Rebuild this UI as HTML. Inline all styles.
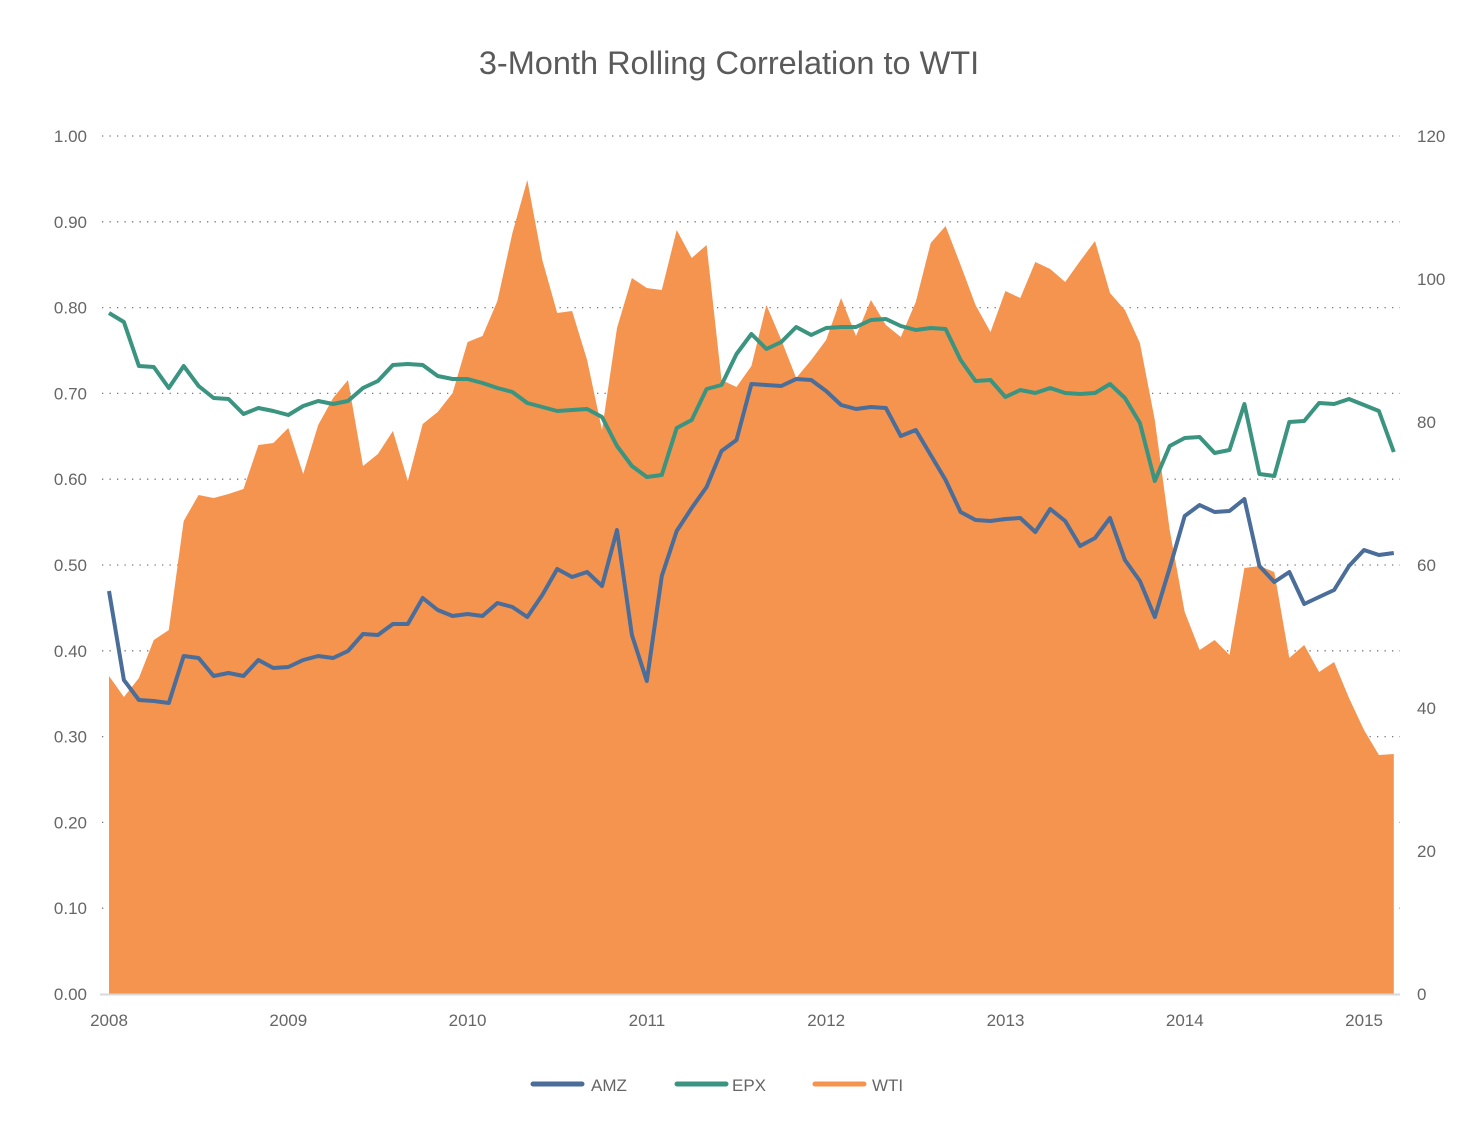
<!DOCTYPE html>
<html><head><meta charset="utf-8"><style>
html,body{margin:0;padding:0;background:#fff;}
svg{display:block;font-family:"Liberation Sans",sans-serif;}
</style></head><body>
<svg id="c" width="1483" height="1129" viewBox="0 0 1483 1129" xmlns="http://www.w3.org/2000/svg">
<rect width="1483" height="1129" fill="#fff"/>
<text x="729" y="74" text-anchor="middle" font-size="32.5" fill="#5a5a5a">3-Month Rolling Correlation to WTI</text>
<g id="grid" stroke="#777" stroke-width="1.3" stroke-dasharray="1.3 6.2"></g>
<path id="wti" fill="#f4944f"/>
<line x1="100" y1="994.5" x2="1400" y2="994.5" stroke="#d9d9d9" stroke-width="2"/>
<path id="epx" fill="none" stroke="#3a9480" stroke-width="4" stroke-linejoin="round"/>
<path id="amz" fill="none" stroke="#4a6d99" stroke-width="4" stroke-linejoin="round"/>
<g id="lab" font-size="17" fill="#666"></g>
<g font-size="17" fill="#666">
<line x1="533" y1="1084" x2="582" y2="1084" stroke="#4a6d99" stroke-width="5" stroke-linecap="round"/>
<text x="591" y="1091">AMZ</text>
<line x1="677" y1="1084" x2="726" y2="1084" stroke="#3a9480" stroke-width="5" stroke-linecap="round"/>
<text x="732" y="1091">EPX</text>
<line x1="815" y1="1084" x2="864" y2="1084" stroke="#f4944f" stroke-width="5" stroke-linecap="round"/>
<text x="872" y="1091">WTI</text>
</g>
</svg>
<script>
var W=[676,697,678,640,630,521,495,498,494,489,445,443,428,474,425,398,380,466,454,431,481,424,412,393,342,336,301,233,180,260,313,311,360,430,328,278,288,290,230,258,245,380,387,366,305,340,378,360,340,298,336,300,325,337,302,243,226,265,305,332,291,298,262,269,282,261,241,293,310,343,420,530,612,650,640,655,568,566,572,658,645,672,662,698,730,755,754];
var A=[591,680,700,701,703,656,658,676,673,676,660,668,667,660,656,658,651,634,635,624,624,598,610,616,614,616,603,607,617,595,569,577,572,586,530,635,681,576,531,508,487,451,440,384,385,386,379,380,391,405,409,407,408,436,430,455,480,512,520,521,519,518,532,509,521,546,538,518,560,581,617,568,516,505,512,511,499,566,582,572,604,597,590,566,550,555,553];
var E=[313,322,366,367,388,366,386,398,399,414,408,411,415,406,401,404,401,388,381,365,364,365,376,379,379,383,388,392,403,407,411,410,409,417,446,466,477,475,428,420,389,385,354,334,349,342,327,335,328,327,327,320,319,326,330,328,329,360,381,380,397,390,393,388,393,394,393,384,398,423,481,446,438,437,453,450,404,474,476,422,421,403,404,399,405,411,452];
function X(i){return 109+i*14.94;}
function line(a){return a.map(function(y,i){return (i?'L':'M')+X(i).toFixed(1)+' '+y;}).join(' ');}
document.getElementById('amz').setAttribute('d',line(A));
document.getElementById('epx').setAttribute('d',line(E));
document.getElementById('wti').setAttribute('d',line(W)+' L'+X(86).toFixed(1)+' 994 L109 994 Z');
var g=document.getElementById('grid'),lab=document.getElementById('lab'),ns='http://www.w3.org/2000/svg';
for(var k=0;k<=10;k++){var y=994-k*85.8;
 if(k>0){var l=document.createElementNS(ns,'line');l.setAttribute('x1',102);l.setAttribute('x2',1400);l.setAttribute('y1',y);l.setAttribute('y2',y);g.appendChild(l);}
 var t=document.createElementNS(ns,'text');t.setAttribute('x',87);t.setAttribute('y',y+6);t.setAttribute('text-anchor','end');t.textContent=(k/10).toFixed(2);lab.appendChild(t);}
for(var k=0;k<=6;k++){var y=994-k*143;var t=document.createElementNS(ns,'text');t.setAttribute('x',1417);t.setAttribute('y',y+6);t.textContent=k*20;lab.appendChild(t);}
for(var k=0;k<=7;k++){var t=document.createElementNS(ns,'text');t.setAttribute('x',109+k*179.3);t.setAttribute('y',1026);t.setAttribute('text-anchor','middle');t.textContent=2008+k;lab.appendChild(t);}
</script>
</body></html>
